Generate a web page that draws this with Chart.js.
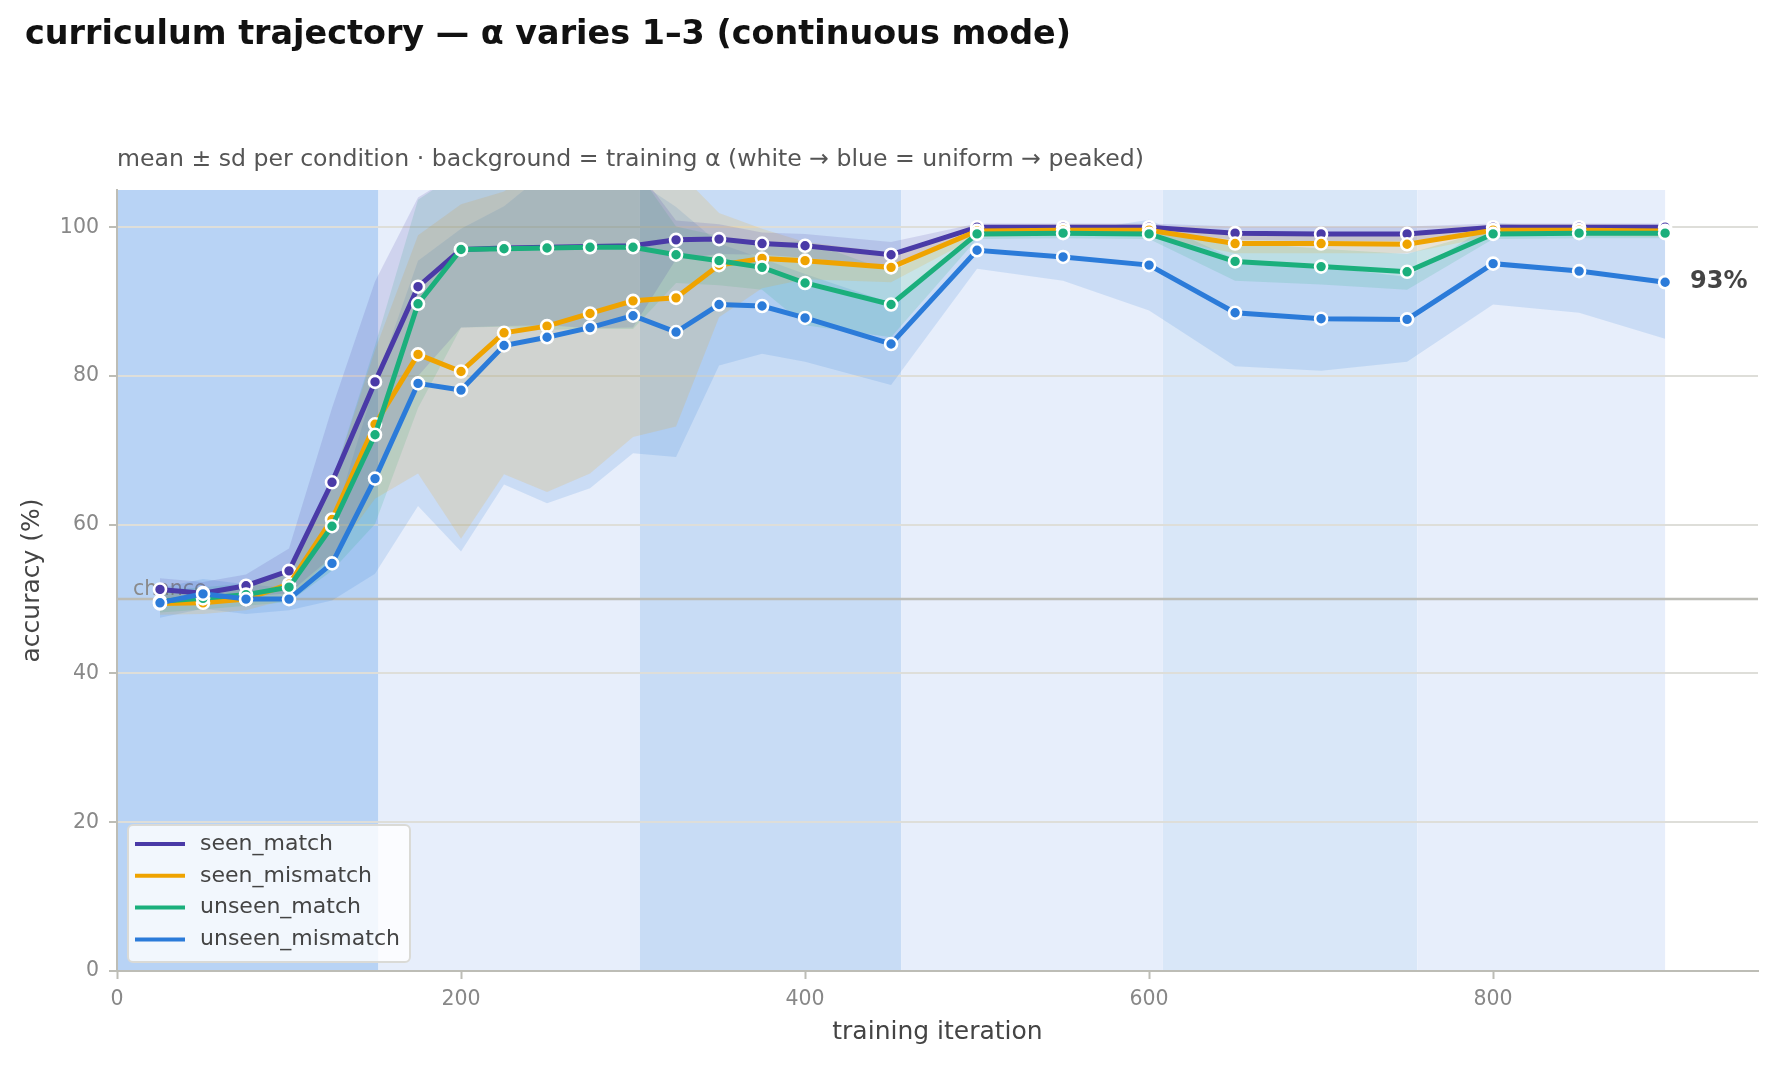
<!DOCTYPE html>
<html>
<head>
<meta charset="utf-8">
<script src="https://cdn.jsdelivr.net/npm/chart.js@4/dist/chart.umd.min.js"></script>
<style>
  html, body { margin: 0; padding: 0; background: #fff; }
  #wrap { position: relative; width: 1778px; height: 1066px; }
</style>
</head>
<body>
<div id="wrap"><canvas id="accChart"></canvas></div>
<script>
const iterations = [25, 50, 75, 100, 125, 150, 175, 200, 225, 250, 275, 300, 325, 350, 375, 400, 450, 500, 550, 600, 650, 700, 750, 800, 850, 900];

const seenMatch      = [51.3, 50.8, 51.8, 53.8, 65.7, 79.2, 92.0, 97.0, 97.2, 97.3, 97.4, 97.5, 98.3, 98.4, 97.8, 97.5, 96.3, 100, 100, 100, 99.2, 99.1, 99.1, 100, 100, 100];
const seenMismatch   = [49.4, 49.5, 50.0, 52.0, 60.7, 73.5, 82.9, 80.6, 85.8, 86.7, 88.4, 90.1, 90.5, 94.9, 95.8, 95.5, 94.6, 99.5, 99.6, 99.6, 97.8, 97.8, 97.7, 99.6, 99.6, 99.5];
const unseenMatch    = [49.7, 50.1, 50.6, 51.6, 59.8, 72.1, 89.7, 97.0, 97.1, 97.2, 97.3, 97.3, 96.3, 95.5, 94.6, 92.5, 89.6, 99.1, 99.2, 99.1, 95.4, 94.7, 94.0, 99.1, 99.2, 99.2];
const unseenMismatch = [49.5, 50.7, 50.0, 50.0, 54.8, 66.2, 79.0, 78.1, 84.1, 85.2, 86.5, 88.1, 85.9, 89.6, 89.4, 87.8, 84.3, 96.9, 96.0, 94.9, 88.5, 87.7, 87.6, 95.1, 94.1, 92.6];

// standard deviations per condition
const seenMatchSd      = [1.5, 1.5, 1.5, 3, 10, 13.5, 12, 10.5, 10.5, 10.5, 11, 11, 2.6, 2, 1.5, 1.6, 1.7, 0.5, 0.5, 0.5, 0.9, 1, 1, 0.5, 0.5, 0.5];
const seenMismatchSd   = [1.5, 1.5, 1.5, 2, 5, 10, 16, 22.5, 19, 22.3, 21.5, 18.3, 17.3, 7, 4, 2.5, 2, 0.8, 0.8, 0.8, 1.3, 1.3, 1.2, 0.8, 0.8, 0.8];
const unseenMatchSd    = [1.5, 1.5, 1.5, 2, 6, 12, 14, 10.5, 10.5, 11, 11, 11, 3.8, 3.3, 3, 5.7, 4.4, 0.7, 0.7, 0.7, 2.6, 2.4, 2.4, 0.7, 0.7, 0.7];
const unseenMismatchSd = [2, 2, 2, 1.5, 5, 12.8, 16.5, 21.7, 18.7, 22.3, 21.6, 18.5, 16.8, 8.2, 6.4, 5.9, 5.5, 2.5, 3.2, 6.1, 7.2, 7.0, 5.7, 5.5, 5.6, 7.6];

const seriesNames = ['seen_match', 'seen_mismatch', 'unseen_match', 'unseen_mismatch'];
const seriesMeans = [seenMatch, seenMismatch, unseenMatch, unseenMismatch];
const seriesSds = [seenMatchSd, seenMismatchSd, unseenMatchSd, unseenMismatchSd];

// training-alpha phases (iteration edges)
const phaseEdges = [0, 152, 304, 456, 608, 756, 900];
const chanceLevel = 50;
const xTicks = [0, 200, 400, 600, 800];
const yTicks = [0, 20, 40, 60, 80, 100];

const colors = ['#4a3aa7', '#efa300', '#1baf7c', '#2b7bd9'];
const fillColors = ['rgba(74,58,167,0.15)', 'rgba(239,163,0,0.15)', 'rgba(27,175,124,0.15)', 'rgba(43,123,217,0.15)'];
const phaseColors = ['#b8d3f5', '#e7eefb', '#c8dcf5', '#e7eefb', '#d9e7f8', '#e7eefb'];

const FONT = "'DejaVu Sans', sans-serif";

const pts = (arr) => arr.map((v, i) => ({ x: iterations[i], y: v }));

const datasets = [];
seriesNames.forEach((name, s) => {
  datasets.push({
    label: name,
    data: pts(seriesMeans[s]),
    borderColor: colors[s],
    backgroundColor: colors[s],
    borderWidth: 5,
    pointRadius: 6,
    pointBorderWidth: 2.6,
    pointBorderColor: '#ffffff',
    pointBackgroundColor: colors[s],
    fill: false,
    tension: 0,
    order: 3 - s
  });
});
seriesNames.forEach((name, s) => {
  const upper = seriesMeans[s].map((m, i) => m + seriesSds[s][i]);
  const lower = seriesMeans[s].map((m, i) => m - seriesSds[s][i]);
  datasets.push({
    label: name + '_hi', data: pts(upper), borderWidth: 0, pointRadius: 0,
    borderColor: 'transparent', fill: false, order: 10 + s * 2
  });
  datasets.push({
    label: name + '_lo', data: pts(lower), borderWidth: 0, pointRadius: 0,
    borderColor: 'transparent', backgroundColor: fillColors[s], fill: '-1', order: 11 + s * 2
  });
});

const decorPlugin = {
  id: 'decor',
  beforeDraw(chart) {
    const { ctx, chartArea, scales: { x } } = chart;
    ctx.save();
    for (let i = 0; i < phaseColors.length; i++) {
      const x0 = x.getPixelForValue(phaseEdges[i]);
      const x1 = x.getPixelForValue(phaseEdges[i + 1]);
      ctx.fillStyle = phaseColors[i];
      ctx.fillRect(x0, chartArea.top, x1 - x0, chartArea.bottom - chartArea.top);
    }
    ctx.restore();
  },
  beforeDatasetsDraw(chart) {
    const { ctx, chartArea, scales: { y } } = chart;
    const yc = y.getPixelForValue(chanceLevel);
    ctx.save();
    ctx.strokeStyle = '#bdbdb6';
    ctx.lineWidth = 2.5;
    ctx.beginPath();
    ctx.moveTo(chartArea.left, yc);
    ctx.lineTo(chartArea.right, yc);
    ctx.stroke();
    ctx.fillStyle = '#8a8a8a';
    ctx.font = '20.5px ' + FONT;
    ctx.textBaseline = 'alphabetic';
    ctx.fillText('chance', chartArea.left + 16, yc - 4);
    ctx.restore();
  },
  afterDraw(chart) {
    const { ctx, scales: { x, y } } = chart;
    ctx.save();
    // title + subtitle
    ctx.fillStyle = '#111';
    ctx.font = 'bold 33.4px ' + FONT;
    ctx.textBaseline = 'middle';
    ctx.fillText('curriculum trajectory — α varies 1–3 (continuous mode)', 25, 35);
    ctx.fillStyle = '#555';
    ctx.font = '23.6px ' + FONT;
    ctx.fillText('mean ± sd per condition · background = training α (white → blue = uniform → peaked)', 117, 160);

    // end label
    const last = unseenMismatch[unseenMismatch.length - 1];
    ctx.fillStyle = '#444';
    ctx.font = 'bold 24px ' + FONT;
    ctx.fillText(Math.round(last) + '%', x.getPixelForValue(iterations[iterations.length - 1]) + 25, y.getPixelForValue(last));

    // legend
    const lx = 128, ly = 825, lw = 282, lh = 137;
    ctx.fillStyle = 'rgba(255,255,255,0.82)';
    ctx.strokeStyle = '#dadad6';
    ctx.lineWidth = 2;
    ctx.beginPath();
    ctx.roundRect(lx, ly, lw, lh, 5);
    ctx.fill();
    ctx.stroke();
    ctx.font = '22px ' + FONT;
    seriesNames.forEach((name, s) => {
      const ry = ly + 19 + s * 31.8;
      ctx.strokeStyle = colors[s];
      ctx.lineWidth = 4;
      ctx.beginPath();
      ctx.moveTo(lx + 7, ry);
      ctx.lineTo(lx + 57, ry);
      ctx.stroke();
      ctx.fillStyle = '#444';
      ctx.fillText(name, lx + 72, ry);
    });
    ctx.restore();
  }
};

new Chart(document.getElementById('accChart'), {
  type: 'line',
  data: { datasets },
  plugins: [decorPlugin],
  options: {
    responsive: true,
    maintainAspectRatio: false,
    devicePixelRatio: 1,
    animation: false,
    events: [],
    layout: { padding: { top: 190, right: 20, left: 0, bottom: 0 } },
    plugins: { legend: { display: false }, tooltip: { enabled: false }, title: { display: false } },
    scales: {
      x: {
        type: 'linear', min: 0, max: 954,
        afterFit(scale) { scale.height = 95; },
        afterBuildTicks(scale) { scale.ticks = xTicks.map(v => ({ value: v })); },
        grid: { drawOnChartArea: false, drawTicks: true, tickLength: 8, tickWidth: 2, tickColor: '#bdbdb6' },
        border: { color: '#bdbdb6', width: 2 },
        ticks: { color: '#888', font: { family: FONT, size: 20.5 }, padding: 8, maxRotation: 0 },
        title: { display: true, text: 'training iteration', color: '#444', font: { family: FONT, size: 25 }, padding: { top: 0, bottom: 19 } }
      },
      y: {
        min: 0, max: 105,
        afterFit(scale) { scale.width = 117; },
        afterBuildTicks(scale) { scale.ticks = yTicks.map(v => ({ value: v })); },
        grid: { color: '#deded9', lineWidth: 2, drawTicks: true, tickLength: 8, tickWidth: 2, tickColor: '#bdbdb6' },
        border: { color: '#bdbdb6', width: 2 },
        ticks: { color: '#888', font: { family: FONT, size: 20.5 }, padding: 10 },
        title: { display: true, text: 'accuracy (%)', color: '#444', font: { family: FONT, size: 25 }, padding: { top: 17, bottom: 0 } }
      }
    }
  }
});
</script>
</body>
</html>
